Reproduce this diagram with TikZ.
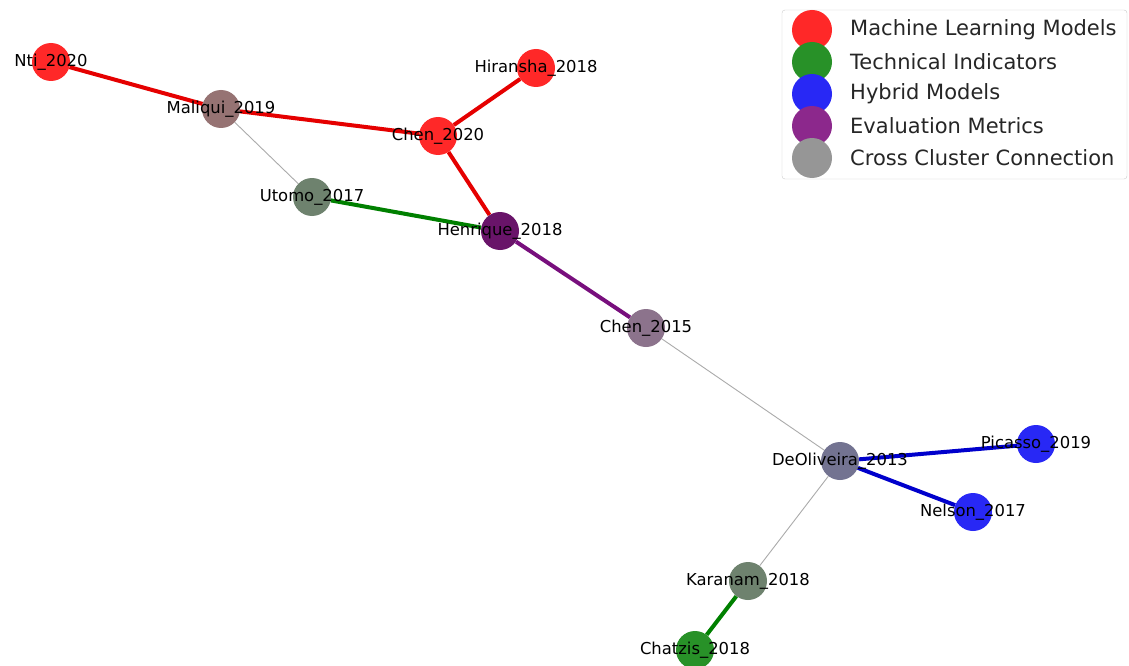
\documentclass[tikz,border=0pt]{standalone}
\usepackage{fontspec}
\setmainfont{DejaVu Sans}
\definecolor{mlred}{RGB}{255,40,40}
\definecolor{tigreen}{RGB}{40,145,40}
\definecolor{hyblue}{RGB}{40,40,245}
\definecolor{evpurple}{RGB}{140,40,140}
\definecolor{crgray}{RGB}{150,150,150}
\definecolor{mauve}{RGB}{150,115,115}
\definecolor{sage}{RGB}{110,130,110}
\definecolor{plum}{RGB}{105,20,105}
\definecolor{lilac}{RGB}{140,115,140}
\definecolor{slate}{RGB}{115,115,145}
\definecolor{evline}{RGB}{120,15,125}

\begin{document}
\begin{tikzpicture}[x=1pt, y=-1pt, anchor=center,
	paper/.style={circle, minimum size=38pt, inner sep=0pt, fill=#1},
	tag/.style={font=\fontsize{16.4}{19}\selectfont, inner sep=0pt},
	link/.style={line width=4pt, draw=#1},
	cross/.style={line width=0.9pt, draw=black!33},
	keydot/.style={circle, minimum size=40pt, inner sep=0pt, fill=#1},
	keytext/.style={font=\fontsize{21}{24}\selectfont, anchor=west, inner sep=0pt, text=black!85}]

		\useasboundingbox (0,0) rectangle (1129,666);
		\fill[white] (0,0) rectangle (1129,666);

		\newcommand{\mkpaper}[4]{
			\node[paper=#4] (#1) at (#2,#3) {};
		}

		%placer les noeuds
		\mkpaper{nti}{51}{62}{mlred}
		\mkpaper{hiransha}{536}{68}{mlred}
		\mkpaper{maliqui}{221}{109}{mauve}
		\mkpaper{chenb}{438}{136}{mlred}
		\mkpaper{utomo}{312}{197}{sage}
		\mkpaper{henrique}{500}{231}{plum}
		\mkpaper{chena}{646}{328}{lilac}
		\mkpaper{deoliveira}{840}{461}{slate}
		\mkpaper{picasso}{1036}{444}{hyblue}
		\mkpaper{nelson}{973}{512}{hyblue}
		\mkpaper{karanam}{748}{581}{sage}
		\mkpaper{chatzis}{695}{650}{tigreen}

		%tracer les aretes
		\draw[link=red!90!black] (nti) -- (maliqui);
		\draw[link=red!90!black] (maliqui) -- (chenb);
		\draw[link=red!90!black] (chenb) -- (hiransha);
		\draw[link=red!90!black] (chenb) -- (henrique);
		\draw[cross] (maliqui) -- (utomo);
		\draw[link=green!50!black] (utomo) -- (henrique);
		\draw[link=evline] (henrique) -- (chena);
		\draw[cross] (chena) -- (deoliveira);
		\draw[link=blue!80!black] (deoliveira) -- (picasso);
		\draw[link=blue!80!black] (deoliveira) -- (nelson);
		\draw[cross] (deoliveira) -- (karanam);
		\draw[link=green!50!black] (karanam) -- (chatzis);

		%etiquettes
		\foreach \n/\t in {nti/Nti\_2020, hiransha/Hiransha\_2018, maliqui/Maliqui\_2019,
			chenb/Chen\_2020, utomo/Utomo\_2017, henrique/Henrique\_2018, chena/Chen\_2015,
			deoliveira/DeOliveira\_2013, picasso/Picasso\_2019, nelson/Nelson\_2017,
			karanam/Karanam\_2018, chatzis/Chatzis\_2018}
			\node[tag] at (\n) {\t};

		%legende
		\draw[black!20, rounded corners=3pt, fill=white] (782,10) rectangle (1127,179);
		\node[keydot=mlred] (k1) at (812,30) {};
		\node[keydot=tigreen] (k2) at (812,62) {};
		\node[keydot=hyblue] (k3) at (812,94) {};
		\node[keydot=evpurple] (k4) at (812,126) {};
		\node[keydot=crgray] (k5) at (812,158) {};
		\node[keytext] at (850,30) {Machine Learning Models};
		\node[keytext] at (850,62) {Technical Indicators};
		\node[keytext] at (850,94) {Hybrid Models};
		\node[keytext] at (850,126) {Evaluation Metrics};
		\node[keytext] at (850,158) {Cross Cluster Connection};

\end{tikzpicture}
\end{document}
